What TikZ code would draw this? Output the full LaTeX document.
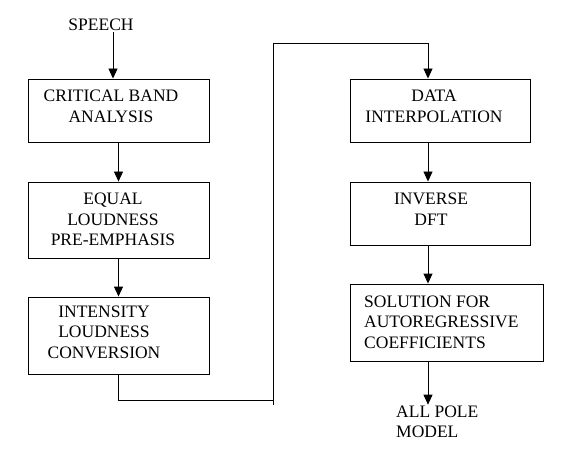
\documentclass[tikz,border=0pt]{standalone}
\usepackage{fontspec}
\setmainfont{Liberation Serif}
\usetikzlibrary{arrows.meta,positioning,calc}

\tikzset{
    blk/.style={draw, line width=0.9pt, rectangle, inner sep=0pt},
    txt/.style={align=center, inner sep=1pt, font=\rmfamily\fontsize{17.5}{20.5}\selectfont},
    arr/.style={line width=0.9pt, -{Triangle[length=10pt,width=9pt]}},
    wire/.style={line width=0.9pt}
}

\begin{document}
\begin{tikzpicture}[x=1pt, y=-1pt]
    \useasboundingbox (0,0) rectangle (573,449);

    % Left column
    \node[txt] (speech) at (101, 25) {SPEECH};
    \node[blk, minimum width=181, minimum height=63] (cba) at (118.5, 110.5) {};
    \node[txt] (cbaText) at (111, 106.5) {CRITICAL BAND\\ANALYSIS};
    \node[blk, minimum width=181, minimum height=76] (elp) at (118.5, 220) {};
    \node[txt] (elpText) at (113, 219.5) {EQUAL\\LOUDNESS\\PRE-EMPHASIS};
    \node[blk, minimum width=181, minimum height=77] (ilc) at (118.5, 335.5) {};
    \node[txt] (ilcText) at (104, 332) {INTENSITY\\LOUDNESS\\CONVERSION};

    % Right column
    \node[blk, minimum width=180, minimum height=63] (dip) at (440, 110.5) {};
    \node[txt] (dipText) at (434, 106.5) {DATA\\INTERPOLATION};
    \node[blk, minimum width=180, minimum height=63] (idft) at (440, 213.5) {};
    \node[txt] (idftText) at (431, 209) {INVERSE\\DFT};
    \node[blk, minimum width=193, minimum height=77] (sac) at (446.5, 322.5) {};
    \node[txt, align=left, anchor=west] (sacText) at (363, 322) {SOLUTION FOR\\AUTOREGRESSIVE\\COEFFICIENTS};
    \node[txt, align=left, anchor=west] (apm) at (395, 422) {ALL POLE\\MODEL};

    % Arrows
    \coordinate (rcol) at (428, 0);
    \coordinate (lowturn) at (273, 400);
    \coordinate (topturn) at (273, 43);
    \draw[arr] ([xshift=12pt]speech.south) -- ([xshift=12pt]speech.south |- cba.north);
    \draw[arr] (cba) -- (elp);
    \draw[arr] (elp) -- (ilc);
    \draw[wire] (ilc.south) |- (lowturn);
    \draw[arr] ([yshift=-5pt]lowturn) -- (topturn) -| (dip.north -| rcol);
    \draw[arr] (dip.south -| rcol) -- (idft.north -| rcol);
    \draw[arr] (idft.south -| rcol) -- (sac.north -| rcol);
    \draw[arr] (sac.south -| rcol) -- (apm.north -| rcol);
\end{tikzpicture}
\end{document}
